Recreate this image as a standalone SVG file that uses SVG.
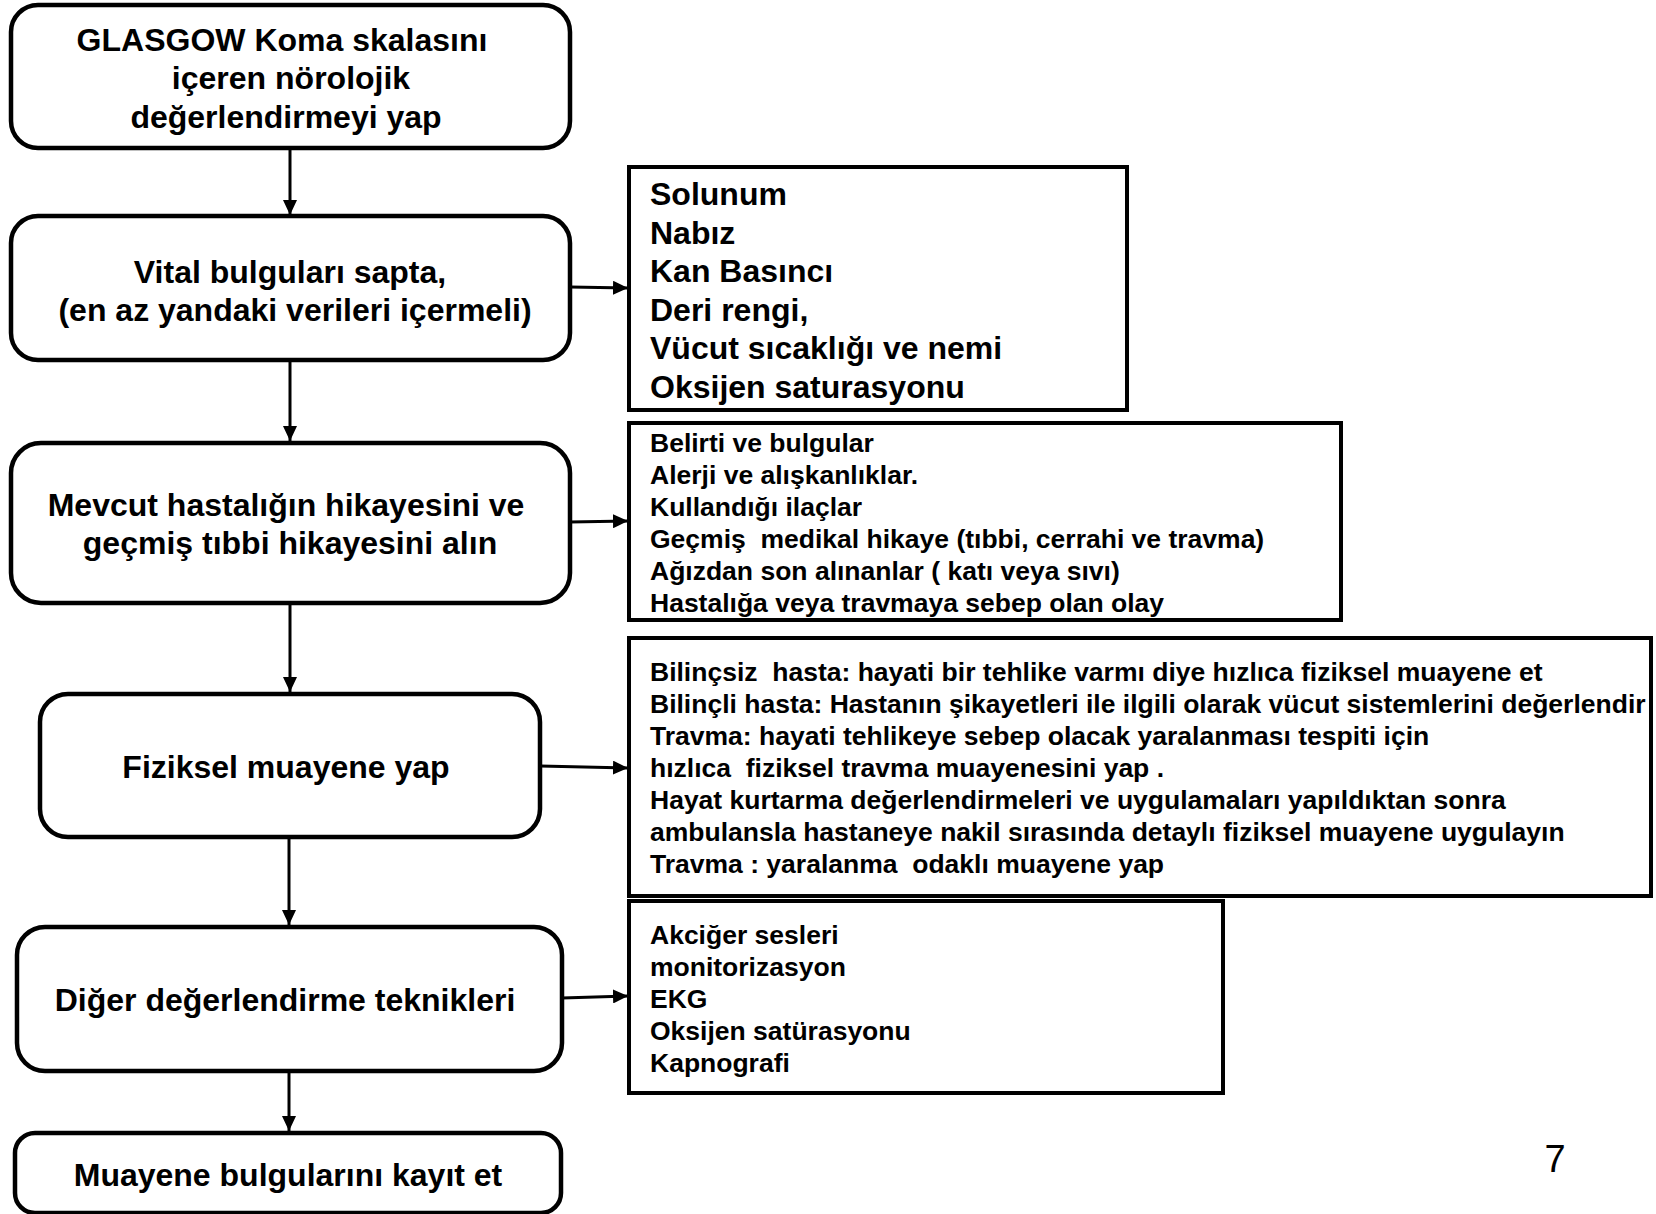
<svg xmlns="http://www.w3.org/2000/svg" width="1656" height="1214" viewBox="0 0 1656 1214">
<style>
.step{fill:#fff;stroke:#000;stroke-width:4.5}
.info{fill:#fff;stroke:#000;stroke-width:4}
.t{font-family:"Liberation Sans",Arial,sans-serif;font-weight:bold;fill:#000}
.big{font-size:32px}
.mid{font-size:26.5px}
.c{text-anchor:middle}
.conn{stroke:#000;stroke-width:3;fill:none;marker-end:url(#ah)}
</style>
<defs>
<marker id="ah" markerUnits="userSpaceOnUse" markerWidth="16" markerHeight="14" refX="15" refY="7" orient="auto">
<path d="M0,0 L15,7 L0,14 Z" fill="#000"/>
</marker>
</defs>
<rect width="1656" height="1214" fill="#fff"/>

<g id="connectors">
<line class="conn" x1="290" y1="148" x2="290" y2="215"/>
<line class="conn" x1="290" y1="360" x2="290" y2="441"/>
<line class="conn" x1="290" y1="603" x2="290" y2="692"/>
<line class="conn" x1="289" y1="837" x2="289" y2="925"/>
<line class="conn" x1="289" y1="1071" x2="289" y2="1131"/>
<line class="conn" x1="570" y1="287" x2="628" y2="288"/>
<line class="conn" x1="570" y1="522" x2="628" y2="521"/>
<line class="conn" x1="540" y1="766" x2="628" y2="768"/>
<line class="conn" x1="562" y1="998" x2="628" y2="996"/>
</g>

<g id="n1">
<rect class="step" x="11" y="5" width="559" height="143" rx="27"/>
<text class="t big c" x="282" y="51">GLASGOW Koma skalasını</text>
<text class="t big c" x="291" y="89">içeren nörolojik</text>
<text class="t big c" x="286" y="128">değerlendirmeyi yap</text>
</g>

<g id="n2">
<rect class="step" x="11" y="216" width="559" height="144" rx="27"/>
<text class="t big c" x="290" y="283">Vital bulguları sapta,</text>
<text class="t big c" x="295" y="321">(en az yandaki verileri içermeli)</text>
</g>

<g id="n3">
<rect class="step" x="11" y="443" width="559" height="160" rx="30"/>
<text class="t big c" x="286" y="516">Mevcut hastalığın hikayesini ve</text>
<text class="t big c" x="290" y="554">geçmiş tıbbi hikayesini alın</text>
</g>

<g id="n4">
<rect class="step" x="40" y="694" width="500" height="143" rx="28"/>
<text class="t big c" x="286" y="778">Fiziksel muayene yap</text>
</g>

<g id="n5">
<rect class="step" x="17" y="927" width="545" height="144" rx="28"/>
<text class="t big c" x="285" y="1011">Diğer değerlendirme teknikleri</text>
</g>

<g id="n6">
<rect class="step" x="15" y="1133" width="546" height="80" rx="20"/>
<text class="t big c" x="288" y="1186">Muayene bulgularını kayıt et</text>
</g>

<g id="r1">
<rect class="info" x="629" y="167" width="498" height="243"/>
<text class="t big" x="650" y="205">Solunum</text>
<text class="t big" x="650" y="243.5">Nabız</text>
<text class="t big" x="650" y="282">Kan Basıncı</text>
<text class="t big" x="650" y="320.5">Deri rengi,</text>
<text class="t big" x="650" y="359">Vücut sıcaklığı ve nemi</text>
<text class="t big" x="650" y="397.5">Oksijen saturasyonu</text>
</g>

<g id="r2">
<rect class="info" x="629" y="423" width="712" height="197"/>
<text class="t mid" x="650" y="452">Belirti ve bulgular</text>
<text class="t mid" x="650" y="484">Alerji ve alışkanlıklar.</text>
<text class="t mid" x="650" y="516">Kullandığı ilaçlar</text>
<text class="t mid" x="650" y="548" xml:space="preserve">Geçmiş  medikal hikaye (tıbbi, cerrahi ve travma)</text>
<text class="t mid" x="650" y="580">Ağızdan son alınanlar ( katı veya sıvı)</text>
<text class="t mid" x="650" y="612">Hastalığa veya travmaya sebep olan olay</text>
</g>

<g id="r3">
<rect class="info" x="629" y="638" width="1022" height="258"/>
<text class="t mid" x="650" y="681" xml:space="preserve">Bilinçsiz  hasta: hayati bir tehlike varmı diye hızlıca fiziksel muayene et</text>
<text class="t mid" x="650" y="713">Bilinçli hasta: Hastanın şikayetleri ile ilgili olarak vücut sistemlerini değerlendir</text>
<text class="t mid" x="650" y="745">Travma: hayati tehlikeye sebep olacak yaralanması tespiti için</text>
<text class="t mid" x="650" y="777" xml:space="preserve">hızlıca  fiziksel travma muayenesini yap .</text>
<text class="t mid" x="650" y="809">Hayat kurtarma değerlendirmeleri ve uygulamaları yapıldıktan sonra</text>
<text class="t mid" x="650" y="841">ambulansla hastaneye nakil sırasında detaylı fiziksel muayene uygulayın</text>
<text class="t mid" x="650" y="873" xml:space="preserve">Travma : yaralanma  odaklı muayene yap</text>
</g>

<g id="r4">
<rect class="info" x="629" y="901" width="594" height="192"/>
<text class="t mid" x="650" y="944">Akciğer sesleri</text>
<text class="t mid" x="650" y="976">monitorizasyon</text>
<text class="t mid" x="650" y="1008">EKG</text>
<text class="t mid" x="650" y="1040">Oksijen satürasyonu</text>
<text class="t mid" x="650" y="1072">Kapnografi</text>
</g>

<text x="1555" y="1172" font-family="Liberation Sans, Arial, sans-serif" font-size="38" text-anchor="middle" fill="#000">7</text>
</svg>
